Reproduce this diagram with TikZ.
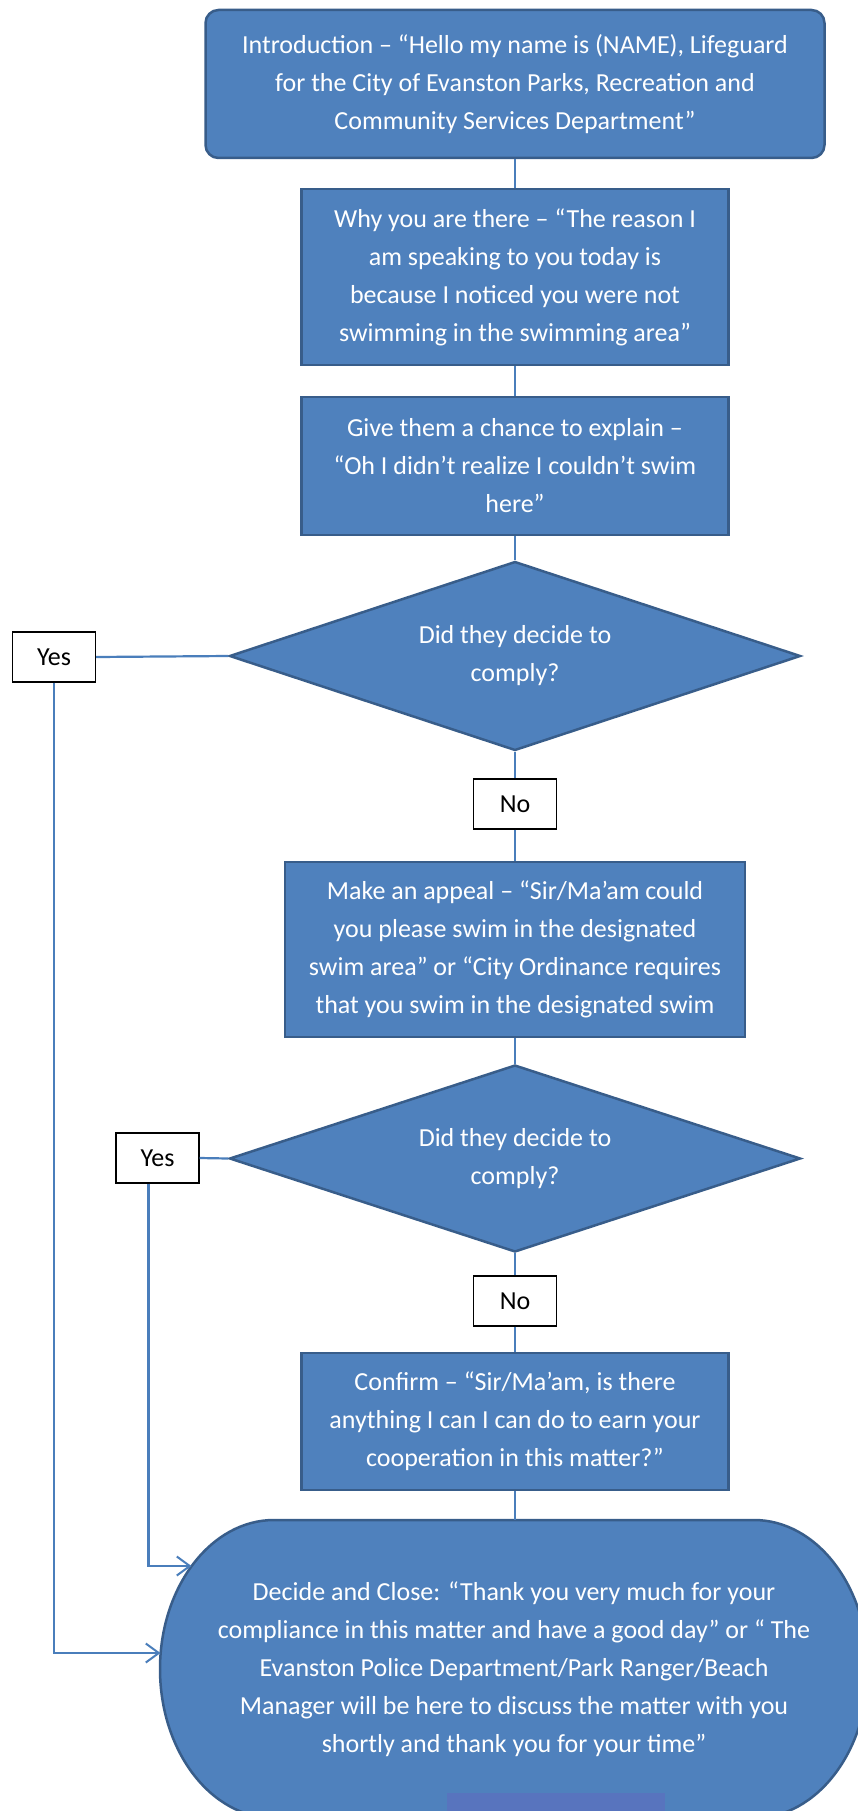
\documentclass[tikz,border=0pt]{standalone}
\usepackage{fontspec}
\setmainfont{Carlito}
\usetikzlibrary{shapes.geometric,arrows.meta}

\definecolor{boxfill}{RGB}{79,129,189}
\definecolor{boxline}{RGB}{56,93,138}
\definecolor{connclr}{RGB}{74,126,187}
\definecolor{patchclr}{RGB}{88,116,190}

\begin{document}
\begin{tikzpicture}[x=1pt,y=-1pt,
  every node/.style={font=\fontsize{26}{38}\selectfont},
  flowbox/.style={draw=boxline, line width=2.5pt, fill=boxfill, text=white, align=center, inner sep=0pt},
  shapefill/.style={draw=boxline, line width=2.5pt, fill=boxfill},
  decision/.style={diamond, draw=boxline, line width=2.5pt, fill=boxfill, text=white, align=center, inner sep=0pt, aspect=3},
  answer/.style={draw=black, line width=1.3pt, fill=white, text=black, align=center, minimum width=83pt, minimum height=50pt, inner sep=0pt},
  connline/.style={draw=connclr, line width=2.2pt},
  arrowtip/.style={-{Straight Barb[length=13pt,width=19pt,line width=2pt]}}
]
\clip (0,0) rectangle (858,1811);
\fill[white] (0,0) rectangle (858,1811);

% boxes
\node[flowbox, rounded corners=13pt, minimum width=619pt, minimum height=148pt] (intro) at (515,84)
  {Introduction – “Hello my name is (NAME), Lifeguard\\for the City of Evanston Parks, Recreation and\\Community Services Department”};
\node[flowbox, minimum width=427pt, minimum height=176pt] (why) at (515,277)
  {Why you are there – “The reason I\\am speaking to you today is\\because I noticed you were not\\swimming in the swimming area”};
\node[flowbox, minimum width=427pt, minimum height=138pt] (chance) at (515,466)
  {Give them a chance to explain –\\“Oh I didn’t realize I couldn’t swim\\here”};
\node[decision, minimum width=571pt, minimum height=189pt] (d1) at (515,656)
  {Did they decide to\\comply?};
\node[answer] (yes1) at (54,657) {Yes};
\node[answer] (no1) at (515,804) {No};
\node[flowbox, minimum width=460pt, minimum height=175pt] (appeal) at (515,949.5)
  {Make an appeal – “Sir/Ma’am could\\you please swim in the designated\\swim area” or “City Ordinance requires\\that you swim in the designated swim};
\node[decision, minimum width=571pt, minimum height=187pt] (d2) at (515,1158.5)
  {Did they decide to\\comply?};
\node[answer] (yes2) at (157.5,1158) {Yes};
\node[answer] (no2) at (515,1301) {No};
\node[flowbox, minimum width=427pt, minimum height=137pt] (confirm) at (515,1421.5)
  {Confirm – “Sir/Ma’am, is there\\anything I can I can do to earn your\\cooperation in this matter?”};

% terminator
\path[shapefill] (274,1520) -- (754,1520)
  .. controls (817,1520) and (868,1587) .. (868,1669)
  .. controls (868,1751) and (817,1818) .. (754,1818)
  -- (274,1818)
  .. controls (211,1818) and (160,1751) .. (160,1669)
  .. controls (160,1587) and (211,1520) .. (274,1520) -- cycle;
\fill[patchclr] (447,1793) rectangle (665,1811);
\node[text=white, align=center] (close) at (514,1669)
  {Decide and Close: “Thank you very much for your\\compliance in this matter and have a good day” or “ The\\Evanston Police Department/Park Ranger/Beach\\Manager will be here to discuss the matter with you\\shortly and thank you for your time”};
\coordinate (closetop) at (515,1520);
\coordinate (closeA) at (191.5,1566);
\coordinate (closeB) at (160.5,1653);

% connectors
\draw[connline] (intro.south) -- (why.north);
\draw[connline] (why.south) -- (chance.north);
\draw[connline] (chance.south) -- (d1.north);
\draw[connline] (d1.west) -- (yes1.east);
\draw[connline] (d1.south) -- (no1.north);
\draw[connline] (no1.south) -- (appeal.north);
\draw[connline] (appeal.south) -- (d2.north);
\draw[connline] (d2.west) -- (yes2.east);
\draw[connline] (d2.south) -- (no2.north);
\draw[connline] (no2.south) -- (confirm.north);
\draw[connline] (confirm.south) -- (closetop);
\draw[connline, arrowtip] (yes1.south) |- (closeB);
\draw[connline, arrowtip] ([xshift=-9pt]yes2.south) |- (closeA);
\end{tikzpicture}
\end{document}
